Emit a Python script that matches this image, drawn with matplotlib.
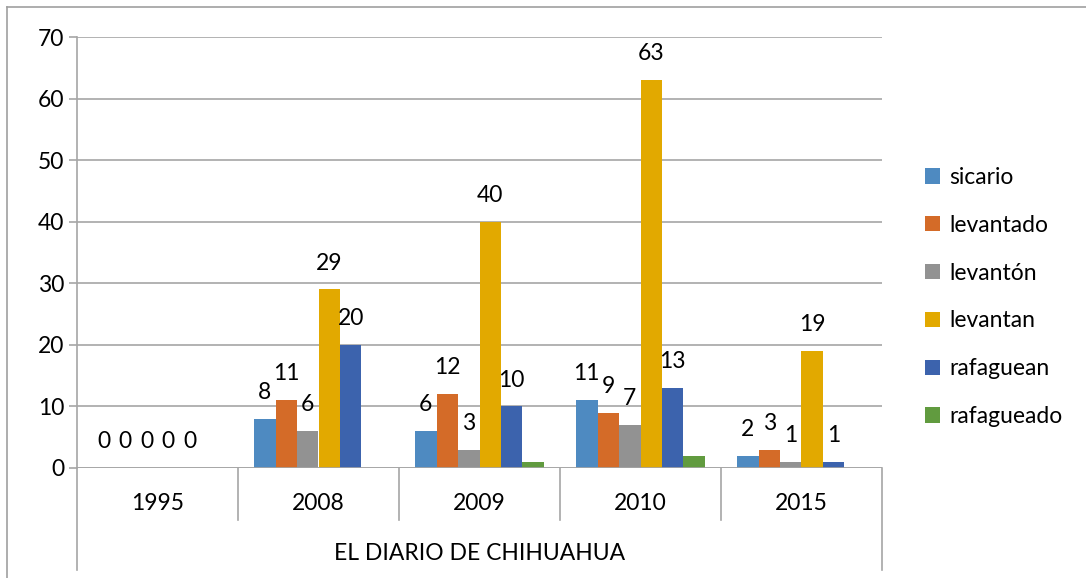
import matplotlib
matplotlib.use('Agg')
import matplotlib.pyplot as plt
from matplotlib.lines import Line2D
import numpy as np

plt.rcParams['font.family'] = ['Lato', 'DejaVu Sans']

years = ['1995', '2008', '2009', '2010', '2015']
group_label = 'EL DIARIO DE CHIHUAHUA'
series_names = ['sicario', 'levantado', 'levantón', 'levantan',
                'rafaguean', 'rafagueado']
sicario = [0, 8, 6, 11, 2]
levantado = [0, 11, 12, 9, 3]
levanton = [0, 6, 3, 7, 1]
levantan = [0, 29, 40, 63, 19]
rafaguean = [0, 20, 10, 13, 1]
rafagueado = [0, 0, 1, 2, 0]
values = [sicario, levantado, levanton, levantan, rafaguean, rafagueado]
labelled = [True, True, True, True, True, False]

colors = ['#4E8AC1', '#D46B28', '#929292', '#E2A900', '#3C63AD', '#619B3F']
grid_col = '#A6A6A6'
fs = 16.5

W, H = 1086, 578
fig = plt.figure(figsize=(W / 100, H / 100), dpi=100)
# plot area in pixels: x 77..882, y 37..468
ax = fig.add_axes([77 / W, (H - 468) / H, 805 / W, 431 / H])

x = np.arange(len(years))
bw = 1 / 7.5
for i, (name, vals) in enumerate(zip(series_names, values)):
    pos = x + (i - 2.5) * bw
    ax.bar(pos, vals, bw, color=colors[i], label=name, zorder=3)
    if labelled[i]:
        for p, v in zip(pos, vals):
            ax.annotate(str(v), (p, v), xytext=(0, 19), textcoords='offset points',
                        ha='center', va='center', fontsize=fs)

ax.set_xlim(-0.5, len(years) - 0.5)
ax.set_ylim(0, 70)
ax.set_yticks(range(0, 71, 10))
ax.yaxis.grid(True, color=grid_col, linewidth=1.2, zorder=0)
for s in ['top', 'right', 'bottom']:
    ax.spines[s].set_visible(False)
ax.spines['left'].set_color(grid_col)
ax.spines['left'].set_linewidth(1.2)
ax.tick_params(axis='y', length=6, width=1.2, color=grid_col, labelsize=fs, pad=3)
ax.tick_params(axis='x', length=0, labelbottom=False)
ax.axhline(0, color=grid_col, linewidth=1.2, zorder=4)

# category axis boxes below the plot
tr = ax.get_xaxis_transform()
y_cat = -52 / 431
y_low = -102 / 431
ax.add_line(Line2D([-0.5, -0.5], [0, y_low], transform=tr, color=grid_col,
                   linewidth=1.2, clip_on=False))
for k in range(1, len(years)):
    ax.add_line(Line2D([k - 0.5, k - 0.5], [0, y_cat], transform=tr,
                       color=grid_col, linewidth=1.2, clip_on=False))
ax.add_line(Line2D([len(years) - 0.5] * 2, [0, y_low], transform=tr,
                   color=grid_col, linewidth=1.2, clip_on=False))
for k, yr in enumerate(years):
    ax.text(k, -35 / 431, yr, transform=tr, ha='center', va='center', fontsize=fs)
ax.text((len(years) - 1) / 2, -85 / 431, group_label, transform=tr,
        ha='center', va='center', fontsize=fs)

# outer chart border (top and left visible)
fig.add_artist(Line2D([7 / W, 1], [1 - 7 / H, 1 - 7 / H], color='#A0A0A0',
                      linewidth=1.2, transform=fig.transFigure))
fig.add_artist(Line2D([7 / W, 7 / W], [0, 1 - 7 / H], color='#A0A0A0',
                      linewidth=1.2, transform=fig.transFigure))

fig.legend(loc='upper left', bbox_to_anchor=(925 / W, 1 - 167 / H),
           frameon=False, fontsize=fs, handlelength=0.65, handleheight=0.65,
           handletextpad=0.4, labelspacing=1.17, borderpad=0, borderaxespad=0)

fig.savefig('out.png', dpi=100)
